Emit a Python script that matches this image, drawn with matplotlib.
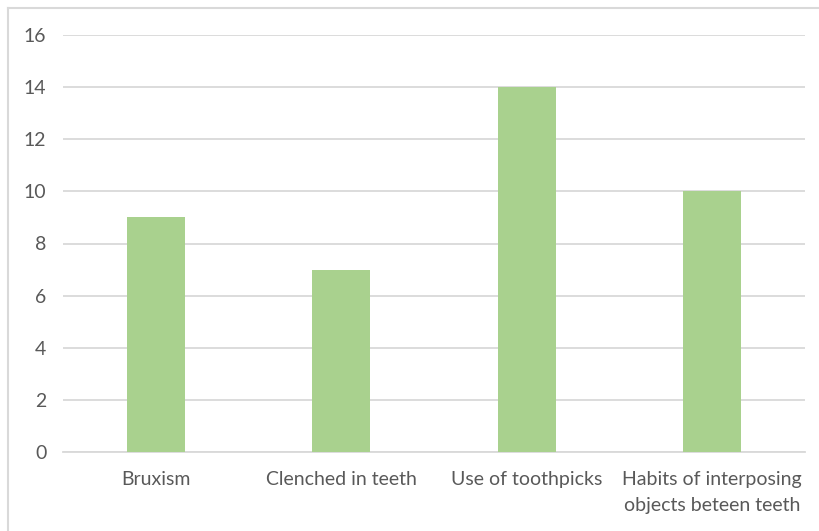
import matplotlib.pyplot as plt
from matplotlib.lines import Line2D

categories = ["Bruxism", "Clenched in teeth", "Use of toothpicks",
              "Habits of interposing\nobjects beteen teeth"]
values = [9, 7, 14, 10]
yticks = [0, 2, 4, 6, 8, 10, 12, 14, 16]

W, H = 819, 531
plt.rcParams['font.family'] = ['Lato', 'DejaVu Sans']
fig = plt.figure(figsize=(W / 100, H / 100), dpi=100)
fig.patch.set_facecolor('white')

# plot area in pixel units, converted to figure fractions
x0, x1 = 63, 805
y_top, y_bot = 35, 452
ax = fig.add_axes([x0 / W, 1 - y_bot / H, (x1 - x0) / W, (y_bot - y_top) / H])

ax.bar(range(len(categories)), values, width=0.31, color='#A9D18E', zorder=3)
ax.set_xlim(-0.5, len(categories) - 0.5)
ax.set_ylim(0, 16)
ax.set_yticks(yticks)
ax.set_xticks(range(len(categories)))
ax.set_xticklabels(categories, linespacing=1.6)

ax.grid(axis='y', color='#D9D9D9', linewidth=1.3, zorder=0)
for s in ['top', 'right', 'left']:
    ax.spines[s].set_visible(False)
ax.spines['bottom'].set_color('#D9D9D9')
ax.spines['bottom'].set_linewidth(1.3)
ax.tick_params(axis='both', length=0, colors='#595959', labelsize=14)
ax.tick_params(axis='y', pad=12)
ax.tick_params(axis='x', pad=14)

# chart frame (top and left edges)
fig.add_artist(Line2D([8 / W, 1], [1 - 8 / H, 1 - 8 / H], color='#D9D9D9', lw=1.5))
fig.add_artist(Line2D([8 / W, 8 / W], [0, 1 - 8 / H], color='#D9D9D9', lw=1.5))

fig.savefig('out.png', dpi=100, facecolor='white')
